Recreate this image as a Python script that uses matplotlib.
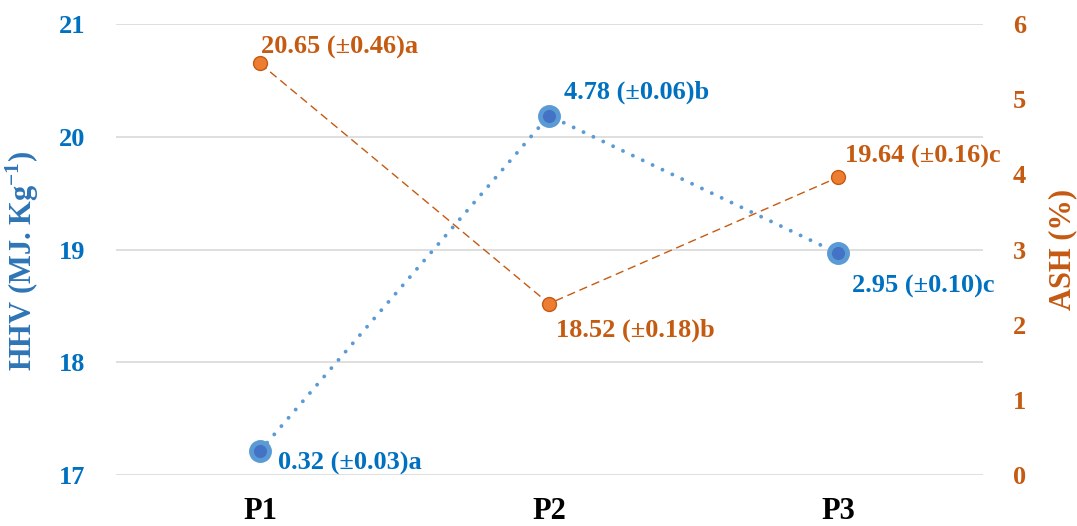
import matplotlib
matplotlib.use("Agg")
import matplotlib.pyplot as plt

categories = ["P1", "P2", "P3"]
hhv = [20.65, 18.52, 19.64]
hhv_err = [0.46, 0.18, 0.16]
hhv_grp = ["a", "b", "c"]
ash = [0.32, 4.78, 2.95]
ash_err = [0.03, 0.06, 0.10]
ash_grp = ["a", "b", "c"]
hhv_ticks = [17, 18, 19, 20, 21]
ash_ticks = [0, 1, 2, 3, 4, 5, 6]

plt.rcParams['font.family'] = ['Liberation Serif', 'DejaVu Serif']
plt.rcParams['font.weight'] = 'bold'
plt.rcParams['mathtext.fontset'] = 'custom'
plt.rcParams['mathtext.rm'] = 'Liberation Serif'
plt.rcParams['mathtext.bf'] = 'Liberation Serif:bold'

BLUE_T = "#0070C0"
BLUE_L = "#2E75B6"
BLUE_M = "#5B9BD5"
BLUE_C = "#4472C4"
ORANGE_T = "#C55A11"
ORANGE_M = "#ED7D31"

fig = plt.figure(figsize=(10.77, 5.26), dpi=100)
ax = fig.add_axes([115.5/1077, 1-475/526, (982.5-115.5)/1077, (475-24)/526])
ax2 = ax.twinx()

x = list(range(len(categories)))

# HHV (orange, left axis)
ax.plot(x, hhv, color=ORANGE_T, lw=1.0, linestyle=(0, (6, 3.5)),
        marker='o', markersize=10, markerfacecolor=ORANGE_M,
        markeredgecolor=ORANGE_T, markeredgewidth=1.0, zorder=3)
# ASH (blue, right axis)
ax2.plot(x, ash, color=BLUE_M, lw=2.8, linestyle=(0, (0.01, 2.8)),
         dash_capstyle='round', marker='o', markersize=13,
         markerfacecolor=BLUE_C, markeredgecolor=BLUE_M, markeredgewidth=3.5,
         zorder=3)

ax.set_xlim(-0.5, 2.5)
ax.set_ylim(17, 21)
ax2.set_ylim(0, 6)
ax.set_yticks(hhv_ticks)
ax2.set_yticks(ash_ticks)
ax.set_xticks(x)
ax.set_xticklabels(categories, fontsize=22, fontweight='bold', color='black')
ax.tick_params(axis='x', length=0, pad=16)
ax.tick_params(axis='y', length=0, pad=21.5, labelsize=19, labelcolor=BLUE_T)
ax2.tick_params(axis='y', length=0, pad=22, labelsize=19, labelcolor=ORANGE_T)
for lab in ax.get_yticklabels() + ax2.get_yticklabels():
    lab.set_fontweight('bold')

ax.grid(axis='y', color='#D9D9D9', lw=1.2)
ax.set_axisbelow(True)
for a in (ax, ax2):
    for s in a.spines.values():
        s.set_visible(False)

ax.set_ylabel(r"HHV (MJ. Kg$^{\mathbf{-1}}$)", fontsize=22, fontweight='bold',
              color=BLUE_L, labelpad=13)
ax.yaxis.label.set_y(0.476)
ax2.set_ylabel("ASH (%)", fontsize=22, fontweight='bold', color=ORANGE_T,
               labelpad=16)

hhv_off = [(1, 10), (7, -33), (7, 15)]
ash_off = [(18, -19), (15, 17), (14, -39)]
for i in x:
    ax.annotate(f"{hhv[i]:.2f} (±{hhv_err[i]:.2f}){hhv_grp[i]}", (i, hhv[i]),
                xytext=hhv_off[i], textcoords='offset pixels', ha='left',
                va='baseline', fontsize=19, fontweight='bold', color=ORANGE_T)
    ax2.annotate(f"{ash[i]:.2f} (±{ash_err[i]:.2f}){ash_grp[i]}", (i, ash[i]),
                 xytext=ash_off[i], textcoords='offset pixels', ha='left',
                 va='baseline', fontsize=19, fontweight='bold', color=BLUE_T)

fig.savefig("out.png", dpi=100)
